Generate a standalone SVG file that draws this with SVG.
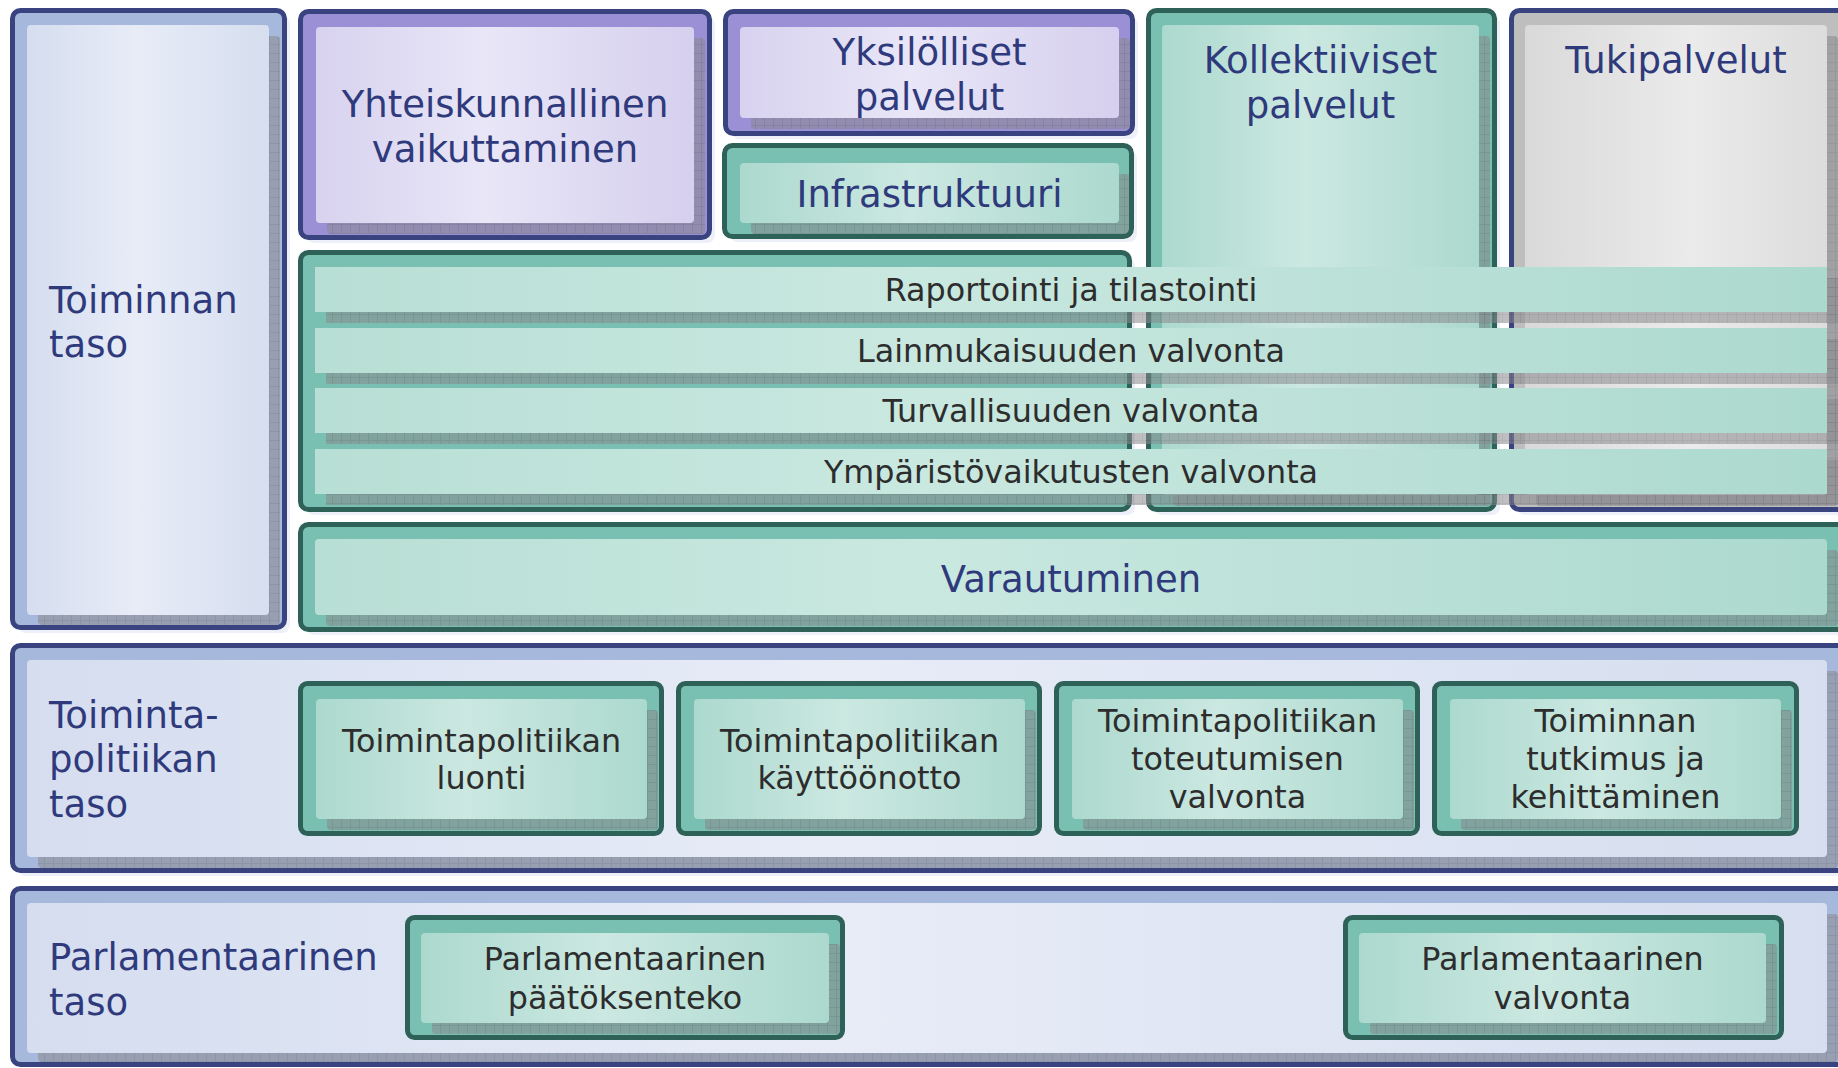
<svg xmlns="http://www.w3.org/2000/svg" width="1838" height="1068" viewBox="0 0 1838 1068">
<defs>
<linearGradient id="gBlue" x1="0" y1="0" x2="1" y2="0"><stop offset="0" stop-color="#d5ddef"/><stop offset="0.45" stop-color="#e7ecf7"/><stop offset="1" stop-color="#d6deef"/></linearGradient>
<linearGradient id="gPurple" x1="0" y1="0" x2="1" y2="0"><stop offset="0" stop-color="#d8d2ef"/><stop offset="0.45" stop-color="#e8e6f7"/><stop offset="1" stop-color="#d6cfee"/></linearGradient>
<linearGradient id="gGreen" x1="0" y1="0" x2="1" y2="0"><stop offset="0" stop-color="#acd9ce"/><stop offset="0.45" stop-color="#cbe8e1"/><stop offset="1" stop-color="#acd9ce"/></linearGradient>
<linearGradient id="gBar" x1="0" y1="0" x2="1" y2="0"><stop offset="0" stop-color="#b8dfd5"/><stop offset="0.4" stop-color="#c9e8e0"/><stop offset="1" stop-color="#acd9ce"/></linearGradient>
<linearGradient id="gGray" x1="0" y1="0" x2="1" y2="0"><stop offset="0" stop-color="#d9d9d9"/><stop offset="0.55" stop-color="#ebebeb"/><stop offset="1" stop-color="#dcdcdc"/></linearGradient>
<pattern id="hatch" width="9" height="9" patternUnits="userSpaceOnUse"><rect width="9" height="9" fill="#8a8a8e"/><path d="M8.5 0V9M0 8.5H9" stroke="#77777c" stroke-width="1"/></pattern>
</defs>
<style>
.t{font-family:"DejaVu Sans",Verdana,sans-serif;font-size:37px;fill:#2f3a7c}
.s{font-family:"DejaVu Sans",Verdana,sans-serif;font-size:31.8px;fill:#2d2d2d}
.c{text-anchor:middle}
.sh{fill:url(#hatch);opacity:0.55}
.fs{fill:#edf0f8}
.bb{fill:none;stroke:#39437f;stroke-width:5}
.gb{fill:none;stroke:#2e6158;stroke-width:5}
.bandB{fill:#a6b8dc}
.bandP{fill:#9b90d6}
.bandG{fill:#79bfb2}
.bandY{fill:#bebebe}
</style>
<rect width="1838" height="1068" fill="#ffffff"/>

<g id="toiminnan-taso">
<rect x="18" y="16" width="272" height="617" rx="8" class="fs"/>
<rect x="12.5" y="10.5" width="272" height="617" rx="8" class="bandB"/>
<rect x="38" y="36" width="242" height="589" rx="4" class="sh"/>
<rect x="27" y="25" width="242" height="590" rx="4" fill="url(#gBlue)"/>
<rect x="12.5" y="10.5" width="272" height="617" rx="8" class="bb"/>
<text class="t" x="49" y="313">Toiminnan<tspan x="49" y="357">taso</tspan></text>
</g>

<g id="yhteiskunnallinen">
<rect x="306" y="17" width="409" height="226" rx="8" class="fs"/>
<rect x="300.5" y="11.5" width="409" height="226" rx="8" class="bandP"/>
<rect x="327" y="38" width="378" height="196" rx="4" class="sh"/>
<rect x="316" y="27" width="378" height="196" rx="4" fill="url(#gPurple)"/>
<rect x="300.5" y="11.5" width="409" height="226" rx="8" class="bb"/>
<text class="t c" x="505" y="117">Yhteiskunnallinen<tspan x="505" y="162">vaikuttaminen</tspan></text>
</g>

<g id="yksilolliset">
<rect x="731" y="17" width="407" height="122" rx="8" class="fs"/>
<rect x="725.5" y="11.5" width="407" height="122" rx="8" class="bandP"/>
<rect x="751" y="38" width="379" height="91" rx="4" class="sh"/>
<rect x="740" y="27" width="379" height="91" rx="4" fill="url(#gPurple)"/>
<rect x="725.5" y="11.5" width="407" height="122" rx="8" class="bb"/>
<text class="t c" x="929.5" y="65">Yksilölliset<tspan x="929.5" y="110">palvelut</tspan></text>
</g>

<g id="infrastruktuuri">
<rect x="730" y="151" width="407" height="91" rx="8" class="fs"/>
<rect x="724.5" y="145.5" width="407" height="91" rx="8" class="bandG"/>
<rect x="751" y="174" width="379" height="60" rx="4" class="sh"/>
<rect x="740" y="163" width="379" height="60" rx="4" fill="url(#gGreen)"/>
<rect x="724.5" y="145.5" width="407" height="91" rx="8" class="gb"/>
<text class="t c" x="929.5" y="207">Infrastruktuuri</text>
</g>

<g id="valvonta-ryhma">
<rect x="306" y="258" width="829" height="257" rx="8" class="fs"/>
<rect x="300.5" y="252.5" width="829" height="257" rx="8" class="bandG"/>
<rect x="300.5" y="252.5" width="829" height="257" rx="8" class="gb"/>
</g>

<g id="kollektiiviset">
<rect x="1154" y="16" width="346" height="499" rx="8" class="fs"/>
<rect x="1148.5" y="10.5" width="346" height="499" rx="8" class="bandG"/>
<rect x="1173" y="36" width="317" height="470" rx="4" class="sh"/>
<rect x="1162" y="25" width="317" height="470" rx="4" fill="url(#gGreen)"/>
<rect x="1148.5" y="10.5" width="346" height="499" rx="8" class="gb"/>
<text class="t c" x="1320.5" y="73">Kollektiiviset<tspan x="1320.5" y="118">palvelut</tspan></text>
</g>

<g id="tukipalvelut">
<rect x="1517" y="16" width="400" height="499" rx="8" class="fs"/>
<rect x="1511.5" y="10.5" width="400" height="499" rx="8" class="bandY"/>
<rect x="1536" y="36" width="302" height="470" rx="4" class="sh"/>
<rect x="1525" y="25" width="302" height="470" rx="4" fill="url(#gGray)"/>
<rect x="1511.5" y="10.5" width="400" height="499" rx="8" class="bb"/>
<text class="t c" x="1676" y="73">Tukipalvelut</text>
</g>

<g id="raportointi">
<rect x="326" y="278" width="1512" height="45" class="sh"/>
<rect x="315" y="267" width="1512" height="45" fill="url(#gBar)"/>
<text class="s c" x="1071" y="301">Raportointi ja tilastointi</text>
</g>
<g id="lainmukaisuus">
<rect x="326" y="339" width="1512" height="45" class="sh"/>
<rect x="315" y="328" width="1512" height="45" fill="url(#gBar)"/>
<text class="s c" x="1071" y="362">Lainmukaisuuden valvonta</text>
</g>
<g id="turvallisuus">
<rect x="326" y="399" width="1512" height="45" class="sh"/>
<rect x="315" y="388" width="1512" height="45" fill="url(#gBar)"/>
<text class="s c" x="1071" y="422">Turvallisuuden valvonta</text>
</g>
<g id="ymparisto">
<rect x="326" y="460" width="1512" height="45" class="sh"/>
<rect x="315" y="449" width="1512" height="45" fill="url(#gBar)"/>
<text class="s c" x="1071" y="483">Ympäristövaikutusten valvonta</text>
</g>

<g id="varautuminen">
<rect x="306" y="530" width="1600" height="105" rx="8" class="fs"/>
<rect x="300.5" y="524.5" width="1600" height="105" rx="8" class="bandG"/>
<rect x="326" y="550" width="1512" height="76" rx="4" class="sh"/>
<rect x="315" y="539" width="1512" height="76" rx="4" fill="url(#gBar)"/>
<rect x="300.5" y="524.5" width="1600" height="105" rx="8" class="gb"/>
<text class="t c" x="1071" y="592">Varautuminen</text>
</g>

<g id="toimintapolitiikan-taso">
<rect x="18" y="651" width="1900" height="225" rx="8" class="fs"/>
<rect x="12.5" y="645.5" width="1900" height="225" rx="8" class="bandB"/>
<rect x="38" y="671" width="1800" height="197" rx="4" class="sh"/>
<rect x="27" y="660" width="1800" height="197" rx="4" fill="url(#gBlue)"/>
<rect x="12.5" y="645.5" width="1900" height="225" rx="8" class="bb"/>
<text class="t" x="49" y="728">Toiminta-<tspan x="49" y="772">politiikan</tspan><tspan x="49" y="817">taso</tspan></text>
</g>

<g id="tp-luonti">
<rect x="300.5" y="683.5" width="361" height="150" rx="7" class="bandG"/>
<rect x="327" y="710" width="331" height="120" rx="4" class="sh"/>
<rect x="316" y="699" width="331" height="120" rx="4" fill="url(#gGreen)"/>
<rect x="300.5" y="683.5" width="361" height="150" rx="7" class="gb"/>
<text class="s c" x="481.5" y="752">Toimintapolitiikan<tspan x="481.5" y="789">luonti</tspan></text>
</g>
<g id="tp-kayttoonotto">
<rect x="678.5" y="683.5" width="361" height="150" rx="7" class="bandG"/>
<rect x="705" y="710" width="331" height="120" rx="4" class="sh"/>
<rect x="694" y="699" width="331" height="120" rx="4" fill="url(#gGreen)"/>
<rect x="678.5" y="683.5" width="361" height="150" rx="7" class="gb"/>
<text class="s c" x="859.5" y="752">Toimintapolitiikan<tspan x="859.5" y="789">käyttöönotto</tspan></text>
</g>
<g id="tp-valvonta">
<rect x="1056.5" y="683.5" width="361" height="150" rx="7" class="bandG"/>
<rect x="1083" y="710" width="331" height="120" rx="4" class="sh"/>
<rect x="1072" y="699" width="331" height="120" rx="4" fill="url(#gGreen)"/>
<rect x="1056.5" y="683.5" width="361" height="150" rx="7" class="gb"/>
<text class="s c" x="1237.5" y="732">Toimintapolitiikan<tspan x="1237.5" y="770">toteutumisen</tspan><tspan x="1237.5" y="808">valvonta</tspan></text>
</g>
<g id="tutkimus">
<rect x="1434.5" y="683.5" width="362" height="150" rx="7" class="bandG"/>
<rect x="1461" y="710" width="331" height="120" rx="4" class="sh"/>
<rect x="1450" y="699" width="331" height="120" rx="4" fill="url(#gGreen)"/>
<rect x="1434.5" y="683.5" width="362" height="150" rx="7" class="gb"/>
<text class="s c" x="1615.5" y="732">Toiminnan<tspan x="1615.5" y="770">tutkimus ja</tspan><tspan x="1615.5" y="808">kehittäminen</tspan></text>
</g>

<g id="parlamentaarinen-taso">
<rect x="12.5" y="888.5" width="1900" height="176" rx="8" class="bandB"/>
<rect x="38" y="914" width="1800" height="148" rx="4" class="sh"/>
<rect x="27" y="903" width="1800" height="150" rx="4" fill="url(#gBlue)"/>
<rect x="12.5" y="888.5" width="1900" height="176" rx="8" class="bb"/>
<text class="t" x="49" y="970">Parlamentaarinen<tspan x="49" y="1015">taso</tspan></text>
</g>

<g id="parl-paatoksenteko">
<rect x="407.5" y="917.5" width="435" height="120" rx="7" class="bandG"/>
<rect x="432" y="944" width="408" height="90" rx="4" class="sh"/>
<rect x="421" y="933" width="408" height="90" rx="4" fill="url(#gGreen)"/>
<rect x="407.5" y="917.5" width="435" height="120" rx="7" class="gb"/>
<text class="s c" x="625" y="970">Parlamentaarinen<tspan x="625" y="1009">päätöksenteko</tspan></text>
</g>
<g id="parl-valvonta">
<rect x="1345.5" y="917.5" width="436" height="120" rx="7" class="bandG"/>
<rect x="1370" y="944" width="407" height="90" rx="4" class="sh"/>
<rect x="1359" y="933" width="407" height="90" rx="4" fill="url(#gGreen)"/>
<rect x="1345.5" y="917.5" width="436" height="120" rx="7" class="gb"/>
<text class="s c" x="1562.5" y="970">Parlamentaarinen<tspan x="1562.5" y="1009">valvonta</tspan></text>
</g>

<g id="connectors"></g>
</svg>
